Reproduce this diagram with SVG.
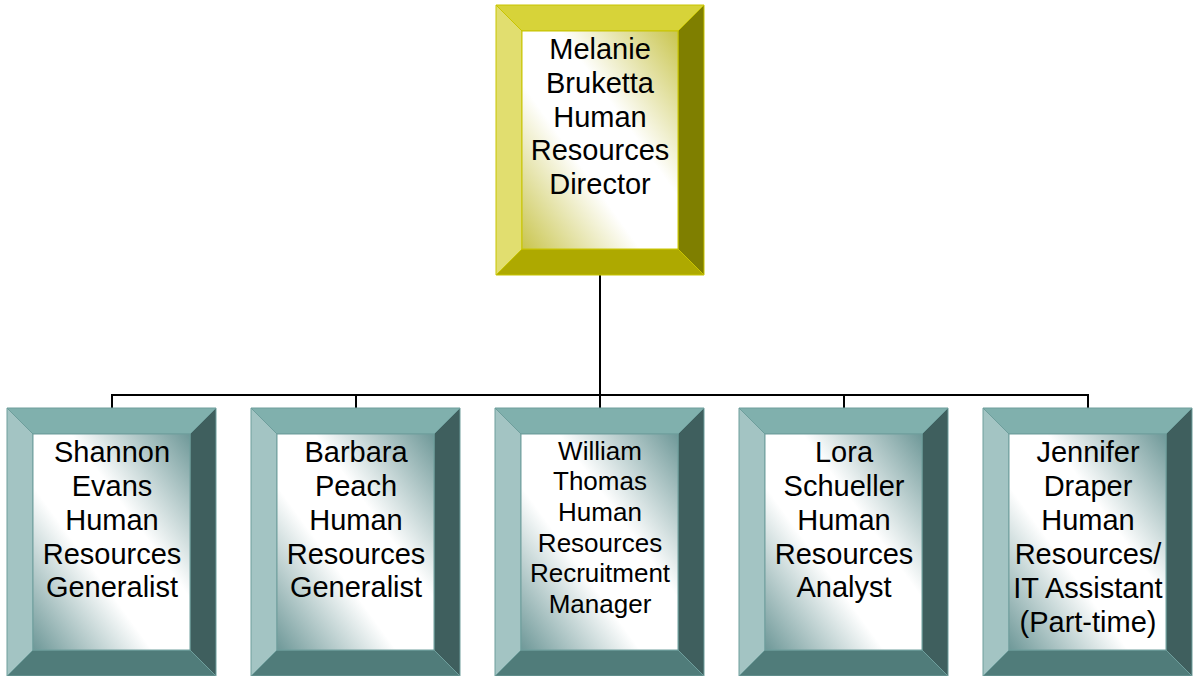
<svg xmlns="http://www.w3.org/2000/svg" width="1195" height="676" viewBox="0 0 1195 676">
<defs>
<linearGradient id="gy" x1="1" y1="0" x2="0" y2="1">
<stop offset="0" stop-color="#C9C54E"/>
<stop offset="0.38" stop-color="#FFFFFF"/>
<stop offset="0.62" stop-color="#FFFFFF"/>
<stop offset="1" stop-color="#C9C54E"/>
</linearGradient>
<linearGradient id="gt" x1="1" y1="0" x2="0" y2="1">
<stop offset="0" stop-color="#6E9898"/>
<stop offset="0.38" stop-color="#FFFFFF"/>
<stop offset="0.62" stop-color="#FFFFFF"/>
<stop offset="1" stop-color="#6E9898"/>
</linearGradient>
<style>
.y .t{fill:#D7D339}.y .l{fill:#E1DE6F}.y .r{fill:#7F7F00}.y .b{fill:#AEA900}
.y polygon,.y rect{stroke:#C8C400;stroke-width:1}
.y .in{fill:url(#gy)}
.c .t{fill:#80B0AD}.c .l{fill:#A3C4C3}.c .r{fill:#3F5F5E}.c .b{fill:#507C7A}
.c polygon,.c rect{stroke:#6E9E9C;stroke-width:1}
.c .in{fill:url(#gt)}
text{font-family:"Liberation Sans",Arial,sans-serif;font-size:29px;fill:#000;text-anchor:middle}
.sm{font-size:26px}
#connectors path{fill:none;stroke:#000;stroke-width:2}
</style>
</defs>
<g id="connectors">
<path d="M600,275V395"/>
<path d="M112,408V395H1088V408"/>
<path d="M356,395V408"/>
<path d="M600,395V408"/>
<path d="M844,395V408"/>
</g>
<g id="node-melanie" class="y" transform="translate(496,5)">
<polygon class="t" points="0,0 208,0 182,26 26,26"/>
<polygon class="l" points="0,0 26,26 26,244 0,270"/>
<polygon class="r" points="208,0 208,270 182,244 182,26"/>
<polygon class="b" points="0,270 26,244 182,244 208,270"/>
<rect class="in" x="26" y="26" width="156" height="218"/>
<text x="104" y="54">Melanie</text>
<text x="104" y="88">Bruketta</text>
<text x="104" y="122">Human</text>
<text x="104" y="155">Resources</text>
<text x="104" y="189">Director</text>
</g>
<g id="node-shannon" class="c" transform="translate(7,408)">
<polygon class="t" points="0,0 209,0 183,26 26,26"/>
<polygon class="l" points="0,0 26,26 26,242 0,268"/>
<polygon class="r" points="209,0 209,268 183,242 183,26"/>
<polygon class="b" points="0,268 26,242 183,242 209,268"/>
<rect class="in" x="26" y="26" width="157" height="216"/>
<text x="105" y="54">Shannon</text>
<text x="105" y="88">Evans</text>
<text x="105" y="122">Human</text>
<text x="105" y="156">Resources</text>
<text x="105" y="189">Generalist</text>
</g>
<g id="node-barbara" class="c" transform="translate(251,408)">
<polygon class="t" points="0,0 209,0 183,26 26,26"/>
<polygon class="l" points="0,0 26,26 26,242 0,268"/>
<polygon class="r" points="209,0 209,268 183,242 183,26"/>
<polygon class="b" points="0,268 26,242 183,242 209,268"/>
<rect class="in" x="26" y="26" width="157" height="216"/>
<text x="105" y="54">Barbara</text>
<text x="105" y="88">Peach</text>
<text x="105" y="122">Human</text>
<text x="105" y="156">Resources</text>
<text x="105" y="189">Generalist</text>
</g>
<g id="node-william" class="c" transform="translate(495,408)">
<polygon class="t" points="0,0 209,0 183,26 26,26"/>
<polygon class="l" points="0,0 26,26 26,242 0,268"/>
<polygon class="r" points="209,0 209,268 183,242 183,26"/>
<polygon class="b" points="0,268 26,242 183,242 209,268"/>
<rect class="in" x="26" y="26" width="157" height="216"/>
<text class="sm" x="105" y="52">William</text>
<text class="sm" x="105" y="82">Thomas</text>
<text class="sm" x="105" y="113">Human</text>
<text class="sm" x="105" y="144">Resources</text>
<text class="sm" x="105" y="174">Recruitment</text>
<text class="sm" x="105" y="205">Manager</text>
</g>
<g id="node-lora" class="c" transform="translate(739,408)">
<polygon class="t" points="0,0 209,0 183,26 26,26"/>
<polygon class="l" points="0,0 26,26 26,242 0,268"/>
<polygon class="r" points="209,0 209,268 183,242 183,26"/>
<polygon class="b" points="0,268 26,242 183,242 209,268"/>
<rect class="in" x="26" y="26" width="157" height="216"/>
<text x="105" y="54">Lora</text>
<text x="105" y="88">Schueller</text>
<text x="105" y="122">Human</text>
<text x="105" y="156">Resources</text>
<text x="105" y="189">Analyst</text>
</g>
<g id="node-jennifer" class="c" transform="translate(983,408)">
<polygon class="t" points="0,0 209,0 183,26 26,26"/>
<polygon class="l" points="0,0 26,26 26,242 0,268"/>
<polygon class="r" points="209,0 209,268 183,242 183,26"/>
<polygon class="b" points="0,268 26,242 183,242 209,268"/>
<rect class="in" x="26" y="26" width="157" height="216"/>
<text x="105" y="54">Jennifer</text>
<text x="105" y="88">Draper</text>
<text x="105" y="122">Human</text>
<text x="105" y="156">Resources/</text>
<text x="105" y="190">IT Assistant</text>
<text x="105" y="224">(Part-time)</text>
</g>
</svg>
